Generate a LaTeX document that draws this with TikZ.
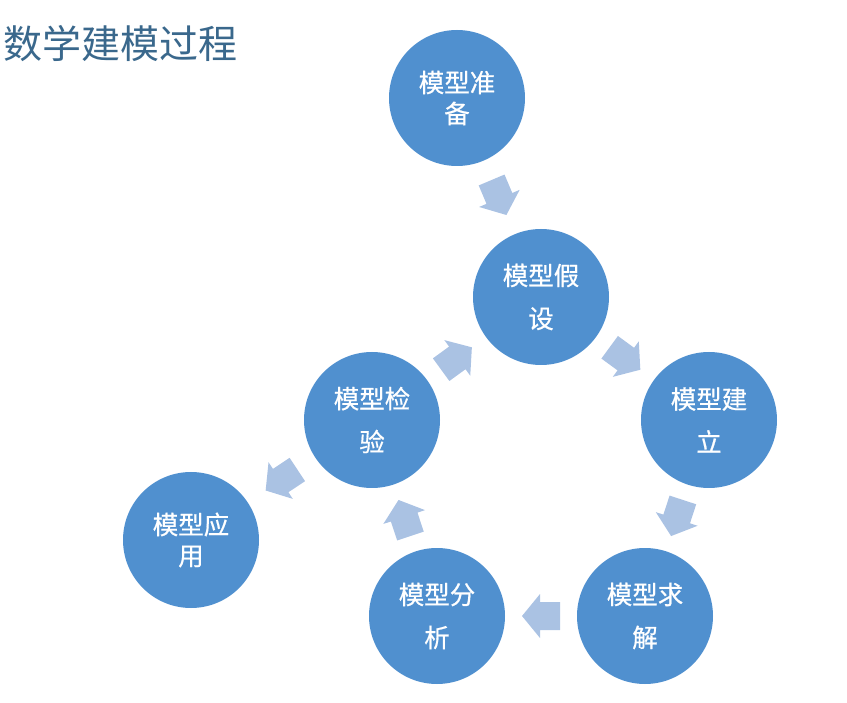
\documentclass[tikz,border=0pt]{standalone}
\usepackage{fontspec}
\newfontfamily\cjk{Noto Sans CJK SC}
\newfontfamily\cjkmed{Noto Sans CJK SC}[FakeBold=0.6]
\usetikzlibrary{calc}
\definecolor{circblue}{RGB}{80,144,207}
\definecolor{arrblue}{RGB}{170,194,227}
\definecolor{titlecol}{RGB}{58,104,140}
\tikzset{
  stage/.style={circle, fill=circblue, minimum size=136pt, inner sep=0pt,
    text=white, align=center, font=\cjkmed\fontsize{25.5}{43}\selectfont},
  stagetight/.style={stage, font=\cjkmed\fontsize{25.5}{31}\selectfont},
  flowarrow/.style={fill=arrblue},
}
\newcommand{\blockarrow}[2]{%
  \path let \p1=($(#2)-(#1)$), \n1={atan2(\y1,\x1)} in
    \pgfextra{\xdef\arrangle{\n1}};
  \begin{scope}[shift={($(#1)!0.5!(#2)$)}, rotate=\arrangle]
    \path[flowarrow] (-19,-14) -- (1,-14) -- (1,-22) -- (19,0) -- (1,22)
      -- (1,14) -- (-19,14) -- cycle;
  \end{scope}}
\begin{document}
\begin{tikzpicture}[x=1pt,y=-1pt]
  \useasboundingbox (0,0) rectangle (847,703);
  \node[anchor=base west, inner sep=0pt, text=titlecol,
    font=\cjk\fontsize{39}{39}\selectfont] (title) at (3,59) {数学建模过程};
  \node[stagetight] (a) at (457,98) {模型准\\备};
  \node[stage] (b) at (541,297) {模型假\\设};
  \node[stage] (c) at (709,420) {模型建\\立};
  \node[stage] (d) at (645,616) {模型求\\解};
  \node[stage] (e) at (437,616) {模型分\\析};
  \node[stage] (f) at (372,420) {模型检\\验};
  \node[stagetight] (g) at (191,540) {模型应\\用};
  \blockarrow{a}{b}
  \blockarrow{b}{c}
  \blockarrow{c}{d}
  \blockarrow{d}{e}
  \blockarrow{e}{f}
  \blockarrow{f}{b}
  \blockarrow{f}{g}
\end{tikzpicture}
\end{document}
